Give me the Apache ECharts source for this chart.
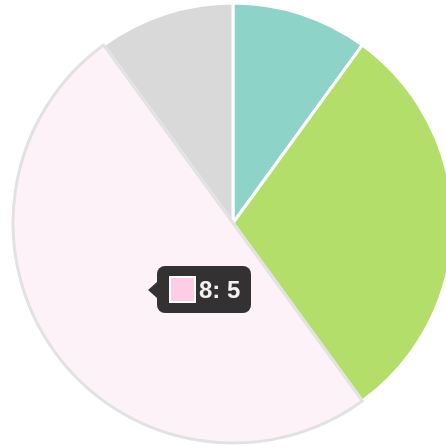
<!DOCTYPE html>
<html>
<head>
<meta charset="utf-8">
<script src="https://cdn.jsdelivr.net/npm/echarts@6/dist/echarts.min.js"></script>
<style>
  html, body { margin: 0; padding: 0; background: #fff; }
  #chart { width: 446px; height: 448px; }
</style>
</head>
<body>
<div id="chart"></div>
<script>
// slice data, clockwise from 12 o'clock
const names = ["1", "7", "8", "9"];
const values = [1, 3, 5, 1];
const colors = ["#8dd3c7", "#b3de69", "#fccde5", "#d9d9d9"];
const activeIndex = 2;

const cx = 233, cy = 223, r = 220;

const myChart = echarts.init(document.getElementById("chart"));

// tooltip anchor = middle of the active slice (angle mid, radius / 2)
function anchorPoint(idx) {
  const total = values.reduce((a, b) => a + b, 0);
  let before = 0;
  for (let i = 0; i < idx; i++) before += values[i];
  const mid = (before + values[idx] / 2) / total * Math.PI * 2;
  return [cx + (r / 2) * Math.sin(mid), cy - (r / 2) * Math.cos(mid)];
}

const option = {
  animation: false,
  tooltip: {
    trigger: "item",
    triggerOn: "none",
    alwaysShowContent: true,
    transitionDuration: 0,
    padding: 0,
    borderWidth: 0,
    backgroundColor: "transparent",
    extraCssText: "box-shadow:none;",
    position: function (point, params, dom, rect, size) {
      const p = anchorPoint(params.dataIndex);
      return [p[0] + 13, p[1] + 2 - size.contentSize[1] / 2];
    },
    formatter: function (p) {
      return '<div style="position:relative;background:rgba(0,0,0,0.8);border-radius:8px;' +
        'padding:10px 11px 10px 12px;font:bold 24px \'Liberation Sans\',Arial,sans-serif;color:#f2f2f2;line-height:26px;">' +
        '<span style="position:absolute;left:-9px;top:50%;margin-top:-8px;width:0;height:0;' +
        'border-top:8px solid transparent;border-bottom:8px solid transparent;border-right:9px solid rgba(0,0,0,0.8);"></span>' +
        '<span style="display:inline-block;width:23px;height:23px;background:' + colors[p.dataIndex] +
        ';border:2px solid #fff;vertical-align:-5px;margin-right:3px;"></span>' +
        p.name + ": " + p.value + "</div>";
    }
  },
  series: [
    {
      type: "pie",
      center: [cx, cy],
      radius: r,
      startAngle: 90,
      clockwise: true,
      label: { show: false },
      labelLine: { show: false },
      itemStyle: { borderColor: "#fff", borderWidth: 3 },
      emphasis: {
        scale: false,
        itemStyle: { color: "#fdf2f8", borderColor: "#e2e2e2", borderWidth: 3 }
      },
      data: names.map((n, i) => ({
        name: n,
        value: values[i],
        itemStyle: { color: colors[i] }
      }))
    }
  ]
};

myChart.setOption(option);
myChart.dispatchAction({ type: "highlight", seriesIndex: 0, dataIndex: activeIndex });
myChart.dispatchAction({ type: "showTip", seriesIndex: 0, dataIndex: activeIndex });
</script>
</body>
</html>
